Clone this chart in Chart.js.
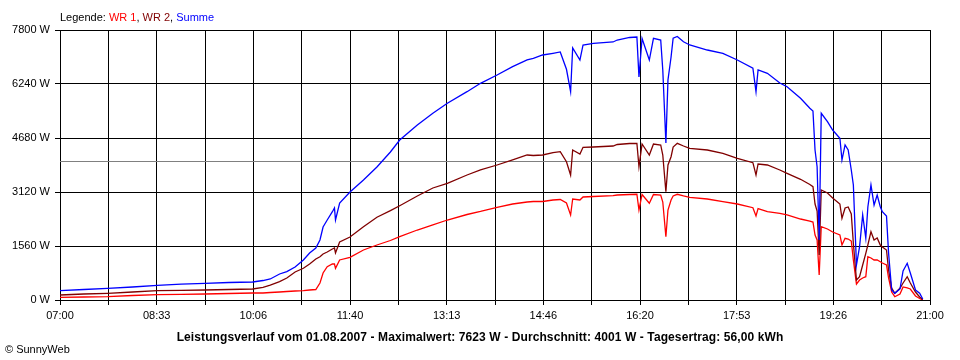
<!DOCTYPE html>
<html>
<head>
<meta charset="utf-8">
<script src="https://cdn.jsdelivr.net/npm/chart.js@4.4.1/dist/chart.umd.min.js"></script>
<style>
  html, body { margin: 0; padding: 0; background: #fff; }
  #wrap { position: relative; width: 960px; height: 360px; font-family: "Liberation Sans", Arial, sans-serif; }
  canvas { position: absolute; left: 0; top: 0; }
  .legend { position: absolute; left: 60px; top: 10px; font-size: 11px; line-height: 14px; color: #000; white-space: nowrap; }
  .caption { position: absolute; left: 0; width: 960px; top: 330px; text-align: center; font-size: 12px; font-weight: bold; line-height: 14px; letter-spacing: 0.1px; color: #000; white-space: nowrap; }
  .copy { position: absolute; left: 5px; top: 342px; font-size: 11px; line-height: 14px; color: #000; white-space: nowrap; }
</style>
</head>
<body>
<div id="wrap">
  <canvas id="c" width="960" height="360"></canvas>
  <div class="legend">Legende: <span style="color:#ff0000">WR 1</span>, <span style="color:#800000">WR 2</span>, <span style="color:#0000ff">Summe</span></div>
  <div class="caption">Leistungsverlauf vom 01.08.2007 - Maximalwert: 7623 W - Durchschnitt: 4001 W - Tagesertrag: 56,00 kWh</div>
  <div class="copy">© SunnyWeb</div>
</div>
<script>
// time of day in minutes since 00:00
const times = [
  420,443,466,490,514,537,560,583,606,616,
  623,632,639,647,655,661,667,671,674,678,
  683,685,686,690,700,713,726,739,748,765,
  780,794,813,826,842,857,871,877,886,896,
  903,909,913,915,922,925,935,954,958,970,
  977,979,982,989,993,1000,1002,1005,1007,1010,
  1012,1016,1022,1028,1045,1060,1074,1089,1092,1094,
  1103,1115,1122,1135,1144,1147,1149,1151,1153,1155,
  1161,1166,1173,1175,1178,1181,1184,1186,1189,1192,
  1195,1198,1200,1203,1206,1209,1212,1214,1218,1220,
  1223,1226,1231,1234,1238,1241,1246,1250,1253
];
// WR 1 (W)
const wr1 = [
  78,87,95,130,153,165,173,188,202,202,
  217,231,246,260,269,289,303,491,780,962,
  1040,1040,916,1156,1234,1444,1589,1719,1829,2022,
  2167,2311,2470,2557,2678,2773,2831,2846,2846,2889,
  2903,2802,2456,2918,2889,2976,2990,3013,3033,3048,
  3054,2600,3048,2794,3048,3033,2831,1829,2600,2889,
  3005,3054,3005,2967,2918,2840,2773,2667,2427,2643,
  2551,2505,2456,2340,2282,2253,1878,1733,722,2118,
  2051,1964,1878,1589,1782,1762,1704,1156,462,578,
  636,673,1251,1213,1156,1156,1106,1069,1011,636,
  231,95,173,376,347,318,116,43,0
];
// WR 2 (W)
const wr2 = [
  144,173,194,231,269,280,289,303,318,367,
  433,529,636,809,916,1040,1184,1251,1329,1387,
  1473,1502,1358,1676,1820,2118,2390,2580,2724,3005,
  3236,3371,3611,3756,3900,4045,4189,4175,4189,4256,
  4284,3995,3611,4334,4218,4411,4420,4449,4492,4521,
  4527,3851,4507,4189,4507,4478,4189,3129,3900,4140,
  4420,4527,4449,4383,4333,4238,4094,3967,3611,3929,
  3900,3756,3660,3487,3337,3273,2773,2571,1300,3178,
  3091,2947,2773,2360,2658,2687,2485,1638,578,673,
  1011,1349,1589,1973,1733,1791,1589,1531,1444,867,
  347,194,338,491,673,491,231,87,14
];
// Summe (W)
const summe = [
  269,303,338,376,425,456,482,506,520,563,
  607,751,818,953,1156,1358,1502,1733,2109,2311,
  2551,2658,2311,2802,3120,3467,3842,4276,4622,5056,
  5394,5683,6018,6260,6500,6740,6934,6983,7078,7127,
  7165,6665,6018,7280,6934,7367,7416,7454,7511,7584,
  7598,6442,7555,6933,7561,7511,6645,4536,6356,7020,
  7561,7612,7462,7367,7222,7127,6934,6694,6018,6645,
  6549,6269,6162,5827,5538,5460,4333,3851,1733,5394,
  5151,4911,4671,4045,4478,4333,3756,3322,1011,1540,
  2456,1791,2687,3322,2744,3033,2695,2551,2427,1358,
  289,194,318,838,1060,780,289,194,29
];
const average = 4001;
const xTickLabels = ['07:00','','08:33','','10:06','','11:40','','13:13','','14:46','','16:20','','17:53','','19:26','','21:00'];
const yTickValues = [0,1560,3120,4680,6240,7800];
const xMin = 420, xMax = 1260;

const pts = arr => times.map((t, i) => ({ x: t, y: arr[i] }));
const xTickValues = xTickLabels.map((_, i) => xMin + i * (xMax - xMin) / (xTickLabels.length - 1));
const font = { family: '"Liberation Sans", Arial, sans-serif', size: 11 };

new Chart(document.getElementById('c'), {
  type: 'line',
  data: {
    datasets: [
      { label: 'Summe', data: pts(summe), borderColor: '#0000ff', borderWidth: 1.3, pointRadius: 0, tension: 0 },
      { label: 'WR 2', data: pts(wr2), borderColor: '#800000', borderWidth: 1.3, pointRadius: 0, tension: 0 },
      { label: 'WR 1', data: pts(wr1), borderColor: '#ff0000', borderWidth: 1.3, pointRadius: 0, tension: 0 },
      { label: 'Durchschnitt', data: [{ x: xMin, y: average }, { x: xMax, y: average }], borderColor: '#808080', borderWidth: 1, pointRadius: 0 }
    ]
  },
  options: {
    responsive: false,
    devicePixelRatio: 1,
    animation: false,
    layout: { padding: { left: 0, right: 30, top: 30, bottom: 0 } },
    plugins: { legend: { display: false }, tooltip: { enabled: false } },
    scales: {
      x: {
        type: 'linear',
        min: xMin, max: xMax,
        afterBuildTicks: s => { s.ticks = xTickValues.map(v => ({ value: v })); },
        afterFit: s => { s.height = 60; },
        grid: { color: '#000', lineWidth: 1, tickLength: 5, drawTicks: true },
        border: { color: '#000', width: 1 },
        ticks: {
          autoSkip: false, maxRotation: 0, minRotation: 0, padding: 4, color: '#000', font,
          callback: (v, i) => xTickLabels[i]
        }
      },
      y: {
        type: 'linear',
        min: 0, max: 7800,
        afterBuildTicks: s => { s.ticks = yTickValues.map(v => ({ value: v })); },
        afterFit: s => { s.width = 60; },
        grid: { color: '#000', lineWidth: 1, tickLength: 5, drawTicks: true },
        border: { color: '#000', width: 1 },
        ticks: { padding: 5, color: '#000', font, callback: v => v + ' W' }
      }
    }
  }
});
</script>
</body>
</html>
